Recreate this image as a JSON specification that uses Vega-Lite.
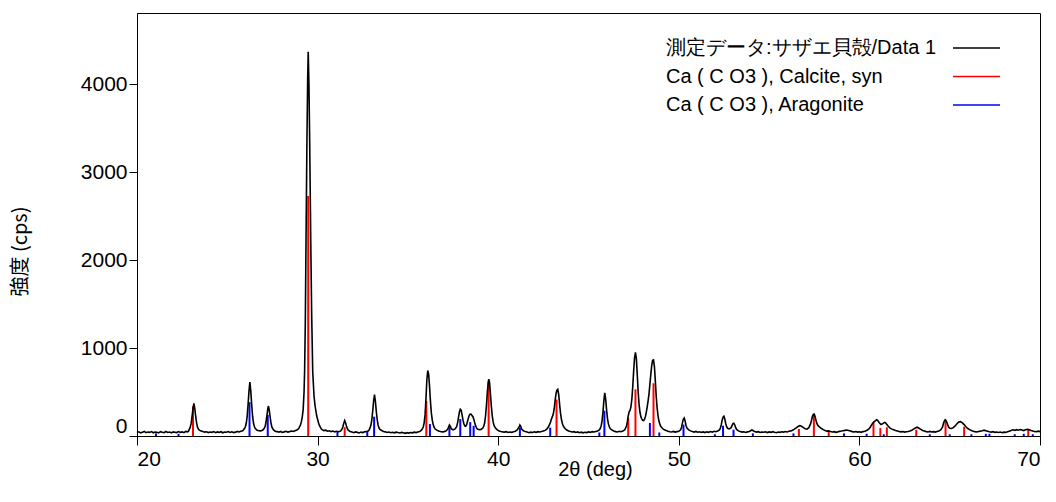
{
  "$schema": "https://vega.github.io/schema/vega-lite/v6.json",
  "width": 903,
  "height": 423,
  "autosize": {"type": "none"},
  "padding": {"left": 137, "top": 13, "right": 16, "bottom": 66},
  "background": "white",
  "config": {
    "view": {"stroke": "black", "strokeWidth": 1},
    "font": "Liberation Sans",
    "axis": {
      "domainColor": "black", "tickColor": "black", "labelColor": "black", "titleColor": "black",
      "grid": false, "labelFont": "Liberation Sans", "labelFontSize": 21, "titleFontSize": 20,
      "titleFontWeight": "normal", "titleFont": "Liberation Sans"
    }
  },
  "datasets": {
    "meas": [
      {"t":20.0,"c":40},{"t":20.1,"c":48},{"t":20.2,"c":36},{"t":20.3,"c":44},{"t":20.4,"c":52},{"t":20.5,"c":38},{"t":20.6,"c":45},{"t":20.7,"c":41},{"t":20.8,"c":50},{"t":20.9,"c":37},
      {"t":21.0,"c":46},{"t":21.1,"c":43},{"t":21.2,"c":35},{"t":21.3,"c":49},{"t":21.4,"c":42},{"t":21.5,"c":38},{"t":21.6,"c":51},{"t":21.7,"c":40},{"t":21.8,"c":45},{"t":21.9,"c":36},
      {"t":22.0,"c":47},{"t":22.1,"c":43},{"t":22.2,"c":39},{"t":22.3,"c":50},{"t":22.4,"c":41},{"t":22.5,"c":46},{"t":22.6,"c":38},{"t":22.7,"c":52},{"t":22.8,"c":47},{"t":22.85,"c":55},
      {"t":22.9,"c":78},{"t":22.95,"c":100},{"t":23.0,"c":146},{"t":23.05,"c":223},{"t":23.1,"c":308},{"t":23.15,"c":370},{"t":23.2,"c":310},{"t":23.25,"c":222},{"t":23.3,"c":150},{"t":23.35,"c":100},
      {"t":23.4,"c":80},{"t":23.45,"c":66},{"t":23.55,"c":58},{"t":23.65,"c":50},{"t":23.75,"c":44},{"t":23.85,"c":48},{"t":23.95,"c":39},{"t":24.05,"c":45},{"t":24.15,"c":42},{"t":24.25,"c":50},
      {"t":24.35,"c":38},{"t":24.45,"c":46},{"t":24.55,"c":41},{"t":24.65,"c":49},{"t":24.75,"c":37},{"t":24.85,"c":45},{"t":24.95,"c":43},{"t":25.05,"c":51},{"t":25.15,"c":40},{"t":25.25,"c":47},
      {"t":25.35,"c":39},{"t":25.45,"c":44},{"t":25.55,"c":52},{"t":25.65,"c":46},{"t":25.75,"c":55},{"t":25.85,"c":60},{"t":25.9,"c":72},{"t":25.95,"c":85},{"t":26.0,"c":105},{"t":26.05,"c":145},
      {"t":26.1,"c":224},{"t":26.15,"c":356},{"t":26.2,"c":509},{"t":26.25,"c":612},{"t":26.3,"c":510},{"t":26.35,"c":355},{"t":26.4,"c":225},{"t":26.45,"c":148},{"t":26.5,"c":108},{"t":26.55,"c":84},
      {"t":26.65,"c":66},{"t":26.75,"c":60},{"t":26.85,"c":58},{"t":26.95,"c":66},{"t":27.0,"c":75},{"t":27.05,"c":90},{"t":27.1,"c":112},{"t":27.15,"c":170},{"t":27.2,"c":240},{"t":27.25,"c":320},
      {"t":27.28,"c":340},{"t":27.32,"c":296},{"t":27.37,"c":219},{"t":27.42,"c":148},{"t":27.47,"c":101},{"t":27.55,"c":72},{"t":27.65,"c":55},{"t":27.75,"c":50},{"t":27.85,"c":44},{"t":27.95,"c":52},
      {"t":28.05,"c":41},{"t":28.15,"c":47},{"t":28.25,"c":53},{"t":28.35,"c":45},{"t":28.45,"c":50},{"t":28.55,"c":56},{"t":28.65,"c":52},{"t":28.75,"c":60},{"t":28.85,"c":68},{"t":28.95,"c":82},
      {"t":29.0,"c":105},{"t":29.05,"c":125},{"t":29.1,"c":160},{"t":29.15,"c":215},{"t":29.2,"c":300},{"t":29.25,"c":500},{"t":29.28,"c":730},{"t":29.32,"c":1300},{"t":29.36,"c":2240},{"t":29.41,"c":3375},
      {"t":29.45,"c":4050},{"t":29.48,"c":4370},{"t":29.52,"c":4000},{"t":29.56,"c":3375},{"t":29.62,"c":2240},{"t":29.67,"c":1400},{"t":29.73,"c":730},{"t":29.8,"c":460},{"t":29.85,"c":360},{"t":29.9,"c":290},
      {"t":29.95,"c":230},{"t":30.0,"c":190},{"t":30.05,"c":150},{"t":30.1,"c":120},{"t":30.15,"c":100},{"t":30.2,"c":82},{"t":30.25,"c":72},{"t":30.35,"c":62},{"t":30.45,"c":66},{"t":30.55,"c":55},
      {"t":30.65,"c":60},{"t":30.75,"c":50},{"t":30.85,"c":56},{"t":30.95,"c":47},{"t":31.05,"c":53},{"t":31.15,"c":48},{"t":31.25,"c":55},{"t":31.3,"c":62},{"t":31.35,"c":78},{"t":31.4,"c":105},
      {"t":31.45,"c":145},{"t":31.5,"c":175},{"t":31.55,"c":150},{"t":31.6,"c":110},{"t":31.65,"c":82},{"t":31.7,"c":66},{"t":31.8,"c":52},{"t":31.9,"c":45},{"t":32.0,"c":38},{"t":32.1,"c":46},
      {"t":32.2,"c":41},{"t":32.3,"c":35},{"t":32.4,"c":44},{"t":32.5,"c":39},{"t":32.6,"c":47},{"t":32.7,"c":52},{"t":32.8,"c":57},{"t":32.85,"c":68},{"t":32.9,"c":92},{"t":32.95,"c":122},
      {"t":33.0,"c":181},{"t":33.05,"c":279},{"t":33.1,"c":394},{"t":33.15,"c":470},{"t":33.2,"c":395},{"t":33.25,"c":280},{"t":33.3,"c":185},{"t":33.35,"c":125},{"t":33.4,"c":92},{"t":33.45,"c":75},
      {"t":33.55,"c":62},{"t":33.65,"c":52},{"t":33.75,"c":47},{"t":33.85,"c":40},{"t":33.95,"c":45},{"t":34.05,"c":38},{"t":34.15,"c":43},{"t":34.25,"c":36},{"t":34.35,"c":44},{"t":34.45,"c":39},
      {"t":34.55,"c":35},{"t":34.65,"c":41},{"t":34.75,"c":37},{"t":34.85,"c":30},{"t":34.95,"c":38},{"t":35.05,"c":33},{"t":35.15,"c":40},{"t":35.25,"c":36},{"t":35.35,"c":44},{"t":35.45,"c":39},
      {"t":35.55,"c":46},{"t":35.65,"c":50},{"t":35.7,"c":58},{"t":35.75,"c":66},{"t":35.8,"c":80},{"t":35.85,"c":102},{"t":35.9,"c":150},{"t":35.95,"c":240},{"t":36.0,"c":420},{"t":36.05,"c":640},
      {"t":36.1,"c":745},{"t":36.15,"c":700},{"t":36.2,"c":560},{"t":36.25,"c":390},{"t":36.3,"c":260},{"t":36.35,"c":180},{"t":36.4,"c":130},{"t":36.45,"c":100},{"t":36.5,"c":82},{"t":36.6,"c":67},
      {"t":36.7,"c":58},{"t":36.8,"c":52},{"t":36.9,"c":47},{"t":37.0,"c":50},{"t":37.1,"c":56},{"t":37.2,"c":75},{"t":37.25,"c":100},{"t":37.3,"c":125},{"t":37.35,"c":110},{"t":37.4,"c":82},
      {"t":37.5,"c":70},{"t":37.6,"c":78},{"t":37.7,"c":105},{"t":37.75,"c":150},{"t":37.8,"c":210},{"t":37.85,"c":270},{"t":37.9,"c":305},{"t":37.95,"c":295},{"t":38.0,"c":240},{"t":38.05,"c":180},
      {"t":38.1,"c":140},{"t":38.15,"c":115},{"t":38.2,"c":110},{"t":38.25,"c":125},{"t":38.3,"c":165},{"t":38.35,"c":205},{"t":38.4,"c":235},{"t":38.45,"c":250},{"t":38.5,"c":248},{"t":38.55,"c":232},
      {"t":38.6,"c":220},{"t":38.65,"c":190},{"t":38.7,"c":150},{"t":38.75,"c":115},{"t":38.8,"c":92},{"t":38.85,"c":80},{"t":38.95,"c":72},{"t":39.05,"c":75},{"t":39.15,"c":90},{"t":39.2,"c":110},
      {"t":39.25,"c":150},{"t":39.3,"c":230},{"t":39.35,"c":350},{"t":39.4,"c":500},{"t":39.45,"c":615},{"t":39.48,"c":645},{"t":39.52,"c":610},{"t":39.57,"c":480},{"t":39.62,"c":340},{"t":39.67,"c":230},
      {"t":39.72,"c":160},{"t":39.77,"c":120},{"t":39.85,"c":90},{"t":39.95,"c":70},{"t":40.05,"c":58},{"t":40.15,"c":52},{"t":40.25,"c":47},{"t":40.35,"c":44},{"t":40.45,"c":49},{"t":40.55,"c":40},
      {"t":40.65,"c":46},{"t":40.75,"c":42},{"t":40.85,"c":48},{"t":40.95,"c":55},{"t":41.05,"c":68},{"t":41.15,"c":100},{"t":41.2,"c":125},{"t":41.25,"c":110},{"t":41.3,"c":78},{"t":41.4,"c":58},
      {"t":41.5,"c":50},{"t":41.6,"c":45},{"t":41.7,"c":38},{"t":41.8,"c":44},{"t":41.9,"c":40},{"t":42.0,"c":47},{"t":42.1,"c":42},{"t":42.2,"c":49},{"t":42.3,"c":45},{"t":42.4,"c":52},
      {"t":42.5,"c":56},{"t":42.6,"c":64},{"t":42.7,"c":80},{"t":42.8,"c":110},{"t":42.9,"c":160},{"t":42.95,"c":195},{"t":43.0,"c":220},{"t":43.05,"c":250},{"t":43.1,"c":310},{"t":43.15,"c":400},
      {"t":43.2,"c":480},{"t":43.25,"c":520},{"t":43.3,"c":530},{"t":43.35,"c":470},{"t":43.4,"c":360},{"t":43.45,"c":260},{"t":43.5,"c":190},{"t":43.55,"c":145},{"t":43.6,"c":115},{"t":43.7,"c":85},
      {"t":43.8,"c":68},{"t":43.9,"c":58},{"t":44.0,"c":52},{"t":44.1,"c":45},{"t":44.2,"c":49},{"t":44.3,"c":40},{"t":44.4,"c":46},{"t":44.5,"c":38},{"t":44.6,"c":44},{"t":44.7,"c":36},
      {"t":44.8,"c":43},{"t":44.9,"c":39},{"t":45.0,"c":46},{"t":45.1,"c":41},{"t":45.2,"c":49},{"t":45.3,"c":45},{"t":45.4,"c":52},{"t":45.5,"c":58},{"t":45.6,"c":70},{"t":45.65,"c":85},
      {"t":45.7,"c":115},{"t":45.75,"c":170},{"t":45.8,"c":270},{"t":45.85,"c":400},{"t":45.9,"c":490},{"t":45.95,"c":420},{"t":46.0,"c":300},{"t":46.05,"c":200},{"t":46.1,"c":140},{"t":46.15,"c":105},
      {"t":46.2,"c":85},{"t":46.3,"c":68},{"t":46.4,"c":57},{"t":46.5,"c":50},{"t":46.6,"c":46},{"t":46.7,"c":53},{"t":46.8,"c":49},{"t":46.9,"c":56},{"t":47.0,"c":68},{"t":47.1,"c":110},
      {"t":47.15,"c":160},{"t":47.2,"c":230},{"t":47.25,"c":275},{"t":47.3,"c":290},{"t":47.35,"c":330},{"t":47.4,"c":420},{"t":47.45,"c":560},{"t":47.5,"c":740},{"t":47.55,"c":890},{"t":47.6,"c":950},
      {"t":47.65,"c":880},{"t":47.7,"c":700},{"t":47.75,"c":500},{"t":47.8,"c":360},{"t":47.85,"c":270},{"t":47.9,"c":220},{"t":47.95,"c":195},{"t":48.0,"c":178},{"t":48.05,"c":175},{"t":48.1,"c":190},
      {"t":48.15,"c":220},{"t":48.2,"c":270},{"t":48.25,"c":330},{"t":48.3,"c":400},{"t":48.35,"c":480},{"t":48.4,"c":590},{"t":48.45,"c":700},{"t":48.5,"c":800},{"t":48.55,"c":860},{"t":48.6,"c":865},
      {"t":48.65,"c":790},{"t":48.7,"c":630},{"t":48.75,"c":450},{"t":48.8,"c":320},{"t":48.85,"c":230},{"t":48.9,"c":170},{"t":48.95,"c":135},{"t":49.0,"c":110},{"t":49.1,"c":85},{"t":49.2,"c":70},
      {"t":49.3,"c":62},{"t":49.4,"c":55},{"t":49.5,"c":49},{"t":49.6,"c":46},{"t":49.7,"c":52},{"t":49.8,"c":45},{"t":49.9,"c":50},{"t":50.0,"c":55},{"t":50.1,"c":70},{"t":50.15,"c":95},
      {"t":50.2,"c":150},{"t":50.25,"c":190},{"t":50.3,"c":205},{"t":50.35,"c":170},{"t":50.4,"c":120},{"t":50.45,"c":90},{"t":50.55,"c":70},{"t":50.65,"c":58},{"t":50.75,"c":50},{"t":50.85,"c":45},
      {"t":50.95,"c":52},{"t":51.05,"c":43},{"t":51.15,"c":48},{"t":51.25,"c":41},{"t":51.35,"c":46},{"t":51.45,"c":39},{"t":51.55,"c":47},{"t":51.65,"c":42},{"t":51.75,"c":50},{"t":51.85,"c":44},
      {"t":51.95,"c":53},{"t":52.05,"c":48},{"t":52.15,"c":56},{"t":52.25,"c":70},{"t":52.3,"c":90},{"t":52.35,"c":125},{"t":52.4,"c":180},{"t":52.45,"c":215},{"t":52.5,"c":225},{"t":52.55,"c":190},
      {"t":52.6,"c":140},{"t":52.65,"c":105},{"t":52.7,"c":88},{"t":52.8,"c":80},{"t":52.9,"c":95},{"t":52.95,"c":120},{"t":53.0,"c":140},{"t":53.05,"c":145},{"t":53.1,"c":125},{"t":53.15,"c":95},
      {"t":53.2,"c":75},{"t":53.3,"c":58},{"t":53.4,"c":50},{"t":53.5,"c":44},{"t":53.6,"c":48},{"t":53.7,"c":41},{"t":53.8,"c":47},{"t":53.9,"c":52},{"t":54.0,"c":62},{"t":54.05,"c":70},
      {"t":54.1,"c":62},{"t":54.2,"c":50},{"t":54.3,"c":44},{"t":54.4,"c":49},{"t":54.5,"c":40},{"t":54.6,"c":45},{"t":54.7,"c":42},{"t":54.8,"c":48},{"t":54.9,"c":39},{"t":55.0,"c":46},
      {"t":55.1,"c":41},{"t":55.2,"c":49},{"t":55.3,"c":43},{"t":55.4,"c":38},{"t":55.5,"c":46},{"t":55.6,"c":42},{"t":55.7,"c":48},{"t":55.8,"c":44},{"t":55.9,"c":51},{"t":56.0,"c":46},
      {"t":56.1,"c":53},{"t":56.2,"c":58},{"t":56.3,"c":66},{"t":56.4,"c":78},{"t":56.5,"c":92},{"t":56.6,"c":108},{"t":56.7,"c":117},{"t":56.8,"c":110},{"t":56.9,"c":95},{"t":57.0,"c":82},
      {"t":57.1,"c":78},{"t":57.2,"c":95},{"t":57.3,"c":140},{"t":57.35,"c":180},{"t":57.4,"c":225},{"t":57.45,"c":245},{"t":57.5,"c":250},{"t":57.55,"c":220},{"t":57.6,"c":175},{"t":57.65,"c":140},
      {"t":57.7,"c":120},{"t":57.8,"c":100},{"t":57.9,"c":85},{"t":58.0,"c":72},{"t":58.1,"c":62},{"t":58.2,"c":55},{"t":58.3,"c":58},{"t":58.4,"c":50},{"t":58.5,"c":45},{"t":58.6,"c":49},
      {"t":58.7,"c":42},{"t":58.8,"c":47},{"t":58.9,"c":53},{"t":59.0,"c":56},{"t":59.1,"c":60},{"t":59.2,"c":64},{"t":59.3,"c":68},{"t":59.4,"c":62},{"t":59.5,"c":56},{"t":59.6,"c":50},
      {"t":59.7,"c":46},{"t":59.8,"c":50},{"t":59.9,"c":44},{"t":60.0,"c":48},{"t":60.1,"c":42},{"t":60.2,"c":50},{"t":60.3,"c":55},{"t":60.4,"c":62},{"t":60.5,"c":75},{"t":60.6,"c":100},
      {"t":60.7,"c":135},{"t":60.8,"c":160},{"t":60.9,"c":175},{"t":60.95,"c":185},{"t":61.0,"c":180},{"t":61.1,"c":150},{"t":61.2,"c":130},{"t":61.3,"c":140},{"t":61.35,"c":150},{"t":61.4,"c":155},
      {"t":61.45,"c":150},{"t":61.5,"c":135},{"t":61.6,"c":110},{"t":61.7,"c":90},{"t":61.8,"c":78},{"t":61.9,"c":70},{"t":62.0,"c":62},{"t":62.1,"c":57},{"t":62.2,"c":52},{"t":62.3,"c":47},
      {"t":62.4,"c":50},{"t":62.5,"c":44},{"t":62.6,"c":48},{"t":62.7,"c":52},{"t":62.8,"c":58},{"t":62.9,"c":66},{"t":63.0,"c":78},{"t":63.1,"c":92},{"t":63.2,"c":100},{"t":63.3,"c":88},
      {"t":63.4,"c":75},{"t":63.5,"c":62},{"t":63.6,"c":56},{"t":63.7,"c":50},{"t":63.8,"c":46},{"t":63.9,"c":52},{"t":64.0,"c":45},{"t":64.1,"c":49},{"t":64.2,"c":44},{"t":64.3,"c":50},
      {"t":64.4,"c":56},{"t":64.5,"c":68},{"t":64.6,"c":100},{"t":64.65,"c":140},{"t":64.7,"c":170},{"t":64.75,"c":185},{"t":64.8,"c":175},{"t":64.85,"c":150},{"t":64.9,"c":120},{"t":64.95,"c":100},
      {"t":65.0,"c":88},{"t":65.1,"c":85},{"t":65.2,"c":95},{"t":65.3,"c":115},{"t":65.4,"c":140},{"t":65.5,"c":158},{"t":65.6,"c":163},{"t":65.7,"c":150},{"t":65.8,"c":130},{"t":65.9,"c":105},
      {"t":66.0,"c":85},{"t":66.1,"c":72},{"t":66.2,"c":62},{"t":66.3,"c":55},{"t":66.4,"c":50},{"t":66.5,"c":46},{"t":66.6,"c":52},{"t":66.7,"c":55},{"t":66.8,"c":60},{"t":66.9,"c":66},
      {"t":67.0,"c":60},{"t":67.1,"c":54},{"t":67.2,"c":48},{"t":67.3,"c":44},{"t":67.4,"c":49},{"t":67.5,"c":41},{"t":67.6,"c":46},{"t":67.7,"c":40},{"t":67.8,"c":45},{"t":67.9,"c":38},
      {"t":68.0,"c":44},{"t":68.1,"c":41},{"t":68.2,"c":48},{"t":68.3,"c":55},{"t":68.4,"c":62},{"t":68.5,"c":70},{"t":68.6,"c":64},{"t":68.7,"c":72},{"t":68.8,"c":66},{"t":68.9,"c":74},
      {"t":69.0,"c":68},{"t":69.1,"c":62},{"t":69.2,"c":70},{"t":69.3,"c":76},{"t":69.4,"c":72},{"t":69.5,"c":62},{"t":69.6,"c":56},{"t":69.7,"c":52},{"t":69.8,"c":48},{"t":69.9,"c":55},
      {"t":70.0,"c":50}
    ],
    "sticks": [
      {"t":23.1,"c":340,"s":"Ca ( C O3 ), Calcite, syn"},
      {"t":29.48,"c":2730,"s":"Ca ( C O3 ), Calcite, syn"},
      {"t":31.5,"c":100,"s":"Ca ( C O3 ), Calcite, syn"},
      {"t":36.02,"c":400,"s":"Ca ( C O3 ), Calcite, syn"},
      {"t":39.47,"c":613,"s":"Ca ( C O3 ), Calcite, syn"},
      {"t":43.23,"c":415,"s":"Ca ( C O3 ), Calcite, syn"},
      {"t":47.2,"c":205,"s":"Ca ( C O3 ), Calcite, syn"},
      {"t":47.6,"c":530,"s":"Ca ( C O3 ), Calcite, syn"},
      {"t":48.6,"c":600,"s":"Ca ( C O3 ), Calcite, syn"},
      {"t":56.65,"c":80,"s":"Ca ( C O3 ), Calcite, syn"},
      {"t":57.48,"c":239,"s":"Ca ( C O3 ), Calcite, syn"},
      {"t":58.3,"c":45,"s":"Ca ( C O3 ), Calcite, syn"},
      {"t":60.78,"c":155,"s":"Ca ( C O3 ), Calcite, syn"},
      {"t":61.16,"c":90,"s":"Ca ( C O3 ), Calcite, syn"},
      {"t":61.52,"c":99,"s":"Ca ( C O3 ), Calcite, syn"},
      {"t":63.15,"c":72,"s":"Ca ( C O3 ), Calcite, syn"},
      {"t":64.77,"c":185,"s":"Ca ( C O3 ), Calcite, syn"},
      {"t":65.8,"c":106,"s":"Ca ( C O3 ), Calcite, syn"},
      {"t":69.35,"c":80,"s":"Ca ( C O3 ), Calcite, syn"},
      {"t":21.05,"c":30,"s":"Ca ( C O3 ), Aragonite"},
      {"t":22.3,"c":25,"s":"Ca ( C O3 ), Aragonite"},
      {"t":26.23,"c":385,"s":"Ca ( C O3 ), Aragonite"},
      {"t":27.24,"c":240,"s":"Ca ( C O3 ), Aragonite"},
      {"t":31.1,"c":45,"s":"Ca ( C O3 ), Aragonite"},
      {"t":32.75,"c":50,"s":"Ca ( C O3 ), Aragonite"},
      {"t":33.13,"c":220,"s":"Ca ( C O3 ), Aragonite"},
      {"t":36.22,"c":136,"s":"Ca ( C O3 ), Aragonite"},
      {"t":37.3,"c":100,"s":"Ca ( C O3 ), Aragonite"},
      {"t":37.9,"c":193,"s":"Ca ( C O3 ), Aragonite"},
      {"t":38.45,"c":158,"s":"Ca ( C O3 ), Aragonite"},
      {"t":38.64,"c":116,"s":"Ca ( C O3 ), Aragonite"},
      {"t":41.2,"c":95,"s":"Ca ( C O3 ), Aragonite"},
      {"t":42.88,"c":95,"s":"Ca ( C O3 ), Aragonite"},
      {"t":45.6,"c":40,"s":"Ca ( C O3 ), Aragonite"},
      {"t":45.88,"c":288,"s":"Ca ( C O3 ), Aragonite"},
      {"t":48.4,"c":148,"s":"Ca ( C O3 ), Aragonite"},
      {"t":48.92,"c":40,"s":"Ca ( C O3 ), Aragonite"},
      {"t":50.26,"c":130,"s":"Ca ( C O3 ), Aragonite"},
      {"t":52.0,"c":20,"s":"Ca ( C O3 ), Aragonite"},
      {"t":52.45,"c":117,"s":"Ca ( C O3 ), Aragonite"},
      {"t":53.03,"c":72,"s":"Ca ( C O3 ), Aragonite"},
      {"t":54.1,"c":30,"s":"Ca ( C O3 ), Aragonite"},
      {"t":56.35,"c":30,"s":"Ca ( C O3 ), Aragonite"},
      {"t":59.15,"c":30,"s":"Ca ( C O3 ), Aragonite"},
      {"t":60.4,"c":25,"s":"Ca ( C O3 ), Aragonite"},
      {"t":61.35,"c":20,"s":"Ca ( C O3 ), Aragonite"},
      {"t":63.9,"c":20,"s":"Ca ( C O3 ), Aragonite"},
      {"t":65.0,"c":20,"s":"Ca ( C O3 ), Aragonite"},
      {"t":66.2,"c":20,"s":"Ca ( C O3 ), Aragonite"},
      {"t":67.0,"c":25,"s":"Ca ( C O3 ), Aragonite"},
      {"t":67.2,"c":25,"s":"Ca ( C O3 ), Aragonite"},
      {"t":68.6,"c":20,"s":"Ca ( C O3 ), Aragonite"},
      {"t":69.1,"c":25,"s":"Ca ( C O3 ), Aragonite"},
      {"t":69.6,"c":20,"s":"Ca ( C O3 ), Aragonite"}
    ]
  },
  "encoding": {
    "x": {
      "field": "t", "type": "quantitative",
      "scale": {"domain": [20, 70], "nice": false, "zero": false},
      "axis": {
        "values": [20, 30, 40, 50, 60, 70], "tickSize": 9, "labelPadding": 3,
        "title": "2θ (deg)", "titleX": 458, "titleY": 33, "titleBaseline": "middle", "titleAlign": "center"
      }
    },
    "y": {
      "field": "c", "type": "quantitative",
      "scale": {"domain": [0, 4810], "nice": false},
      "axis": {
        "values": [0, 1000, 2000, 3000, 4000], "format": "d", "tickSize": 8, "labelPadding": 2, "labelFlush": true,
        "title": "強度 (cps)", "titleFont": "Noto Sans CJK JP", "titleX": -117, "titleY": 238,
        "titleBaseline": "middle", "titleAlign": "center", "titleAngle": -90
      }
    }
  },
  "layer": [
    {
      "data": {"name": "sticks"},
      "mark": {"type": "rule", "strokeWidth": 2},
      "encoding": {
        "y2": {"datum": 0},
        "color": {
          "field": "s", "type": "nominal",
          "scale": {
            "domain": ["測定データ:サザエ貝殻/Data 1", "Ca ( C O3 ), Calcite, syn", "Ca ( C O3 ), Aragonite"],
            "range": ["#000000", "#ff0000", "#0000ff"]
          },
          "legend": {
            "title": null, "orient": "none", "legendX": 827, "legendY": 22.5,
            "symbolType": "M-2,0H2", "symbolSize": 552, "symbolStrokeWidth": 1.3,
            "labelOffset": -323, "labelFontSize": 20, "labelFont": "Liberation Sans", "labelColor": "black",
            "labelLimit": 0, "rowPadding": 5.5, "padding": 0
          }
        }
      }
    },
    {
      "data": {"name": "meas"},
      "mark": {"type": "line", "strokeWidth": 1.6, "interpolate": "linear", "color": "#000000"},
      "encoding": {}
    }
  ]
}
